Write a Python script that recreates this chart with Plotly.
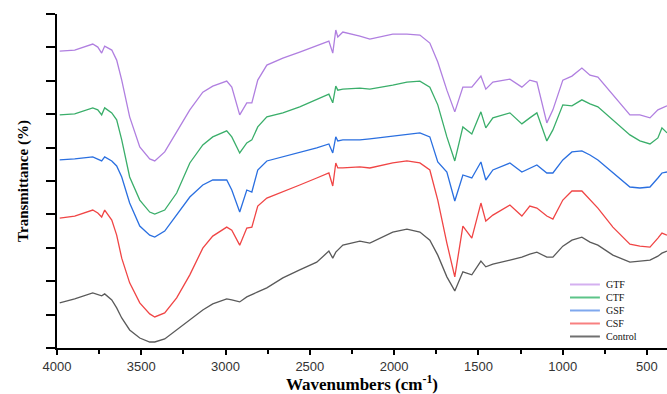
import plotly.graph_objects as go

wavenumbers = [3984, 3895, 3788, 3758, 3735, 3717, 3675, 3646, 3616, 3569, 3509, 3450, 3420, 3361, 3290,
               3212, 3135, 3076, 2993, 2963, 2916, 2874, 2844, 2809, 2755, 2660, 2560, 2459, 2387, 2364,
               2346, 2334, 2304, 2203, 2144, 2008, 1924, 1847, 1788, 1741, 1687, 1640, 1592, 1539, 1485,
               1456, 1414, 1313, 1242, 1195, 1153, 1094, 1058, 999, 945, 886, 838, 791, 702, 601,
               542, 482, 435, 411, 381]

gtf = [88.9, 89.2, 91.0, 90.1, 88.3, 90.4, 89.2, 86.2, 80.2, 69.2, 60.2, 56.6, 56.0, 58.7, 64.7,
       71.3, 76.6, 78.4, 79.9, 78.1, 69.8, 73.4, 73.4, 80.2, 84.7, 86.8, 88.6, 90.4, 91.9, 88.3,
       95.2, 93.1, 94.6, 93.4, 92.5, 94.0, 94.0, 93.7, 91.3, 85.6, 77.2, 70.7, 78.1, 78.1, 81.4,
       77.5, 79.6, 80.5, 78.1, 80.2, 79.6, 67.4, 71.3, 80.2, 81.4, 83.8, 81.7, 81.1, 75.7, 69.8,
       69.8, 68.9, 71.3, 71.9, 72.5]

ctf = [69.8, 70.1, 71.9, 71.3, 69.8, 71.9, 70.4, 68.3, 62.3, 51.2, 44.3, 40.7, 40.1, 41.3, 46.4,
       55.4, 60.8, 63.2, 65.0, 63.2, 58.4, 61.4, 62.3, 66.2, 69.2, 70.4, 72.2, 74.3, 76.0, 73.4,
       78.4, 77.2, 77.5, 77.8, 77.5, 78.7, 79.6, 79.9, 78.1, 72.8, 63.2, 56.0, 66.2, 64.1, 70.7,
       65.9, 68.9, 70.4, 67.1, 68.9, 70.4, 62.0, 65.3, 72.8, 72.5, 74.3, 73.1, 72.2, 68.3, 63.8,
       62.0, 61.1, 62.9, 65.9, 64.4]

gsf = [56.3, 56.6, 57.2, 56.6, 56.0, 57.2, 56.0, 54.5, 51.2, 43.4, 36.5, 33.8, 33.2, 35.0, 39.8,
       45.2, 48.8, 50.3, 50.3, 47.3, 40.7, 47.3, 46.7, 53.3, 56.0, 57.2, 58.4, 59.9, 61.1, 58.4,
       63.2, 62.0, 62.3, 62.3, 62.6, 63.5, 64.1, 64.4, 63.2, 55.7, 52.7, 44.0, 51.8, 50.9, 55.7,
       50.3, 53.3, 55.4, 52.7, 53.9, 54.8, 52.4, 52.4, 56.3, 58.7, 59.0, 57.8, 56.3, 52.4, 48.2,
       47.9, 48.2, 50.9, 52.4, 52.7]

csf = [38.9, 39.5, 41.3, 40.4, 39.2, 41.3, 38.3, 33.8, 26.9, 19.5, 13.5, 10.2, 9.3, 10.5, 15.0,
       21.9, 29.9, 33.5, 36.2, 35.3, 30.8, 35.9, 36.2, 42.5, 44.9, 46.7, 48.8, 50.9, 52.4, 48.5,
       55.4, 53.9, 53.9, 54.2, 53.9, 55.4, 56.0, 55.4, 53.3, 44.3, 31.4, 21.3, 36.5, 32.9, 43.4,
       38.0, 39.8, 42.8, 39.5, 42.5, 41.9, 39.5, 38.6, 44.3, 47.0, 47.0, 44.3, 41.9, 36.2, 31.1,
       30.5, 30.2, 32.9, 34.4, 33.8]

control = [13.5, 14.7, 16.5, 15.9, 15.6, 16.2, 14.4, 12.0, 9.0, 5.4, 3.0, 1.8, 1.8, 2.7, 5.4,
           8.4, 11.4, 13.2, 14.7, 14.4, 13.8, 15.3, 15.9, 16.8, 18.0, 21.0, 23.4, 25.7, 29.0, 26.9,
           28.7, 29.3, 30.8, 32.0, 31.4, 34.7, 35.6, 34.7, 32.3, 27.8, 21.3, 17.1, 22.8, 21.9, 26.0,
           24.3, 25.1, 26.3, 27.2, 28.1, 28.7, 27.2, 27.2, 30.5, 32.3, 33.2, 31.7, 30.8, 27.8, 25.7,
           26.0, 26.3, 27.5, 28.4, 29.0]

series_names = ["GTF", "CTF", "GSF", "CSF", "Control"]
series_values = [gtf, ctf, gsf, csf, control]
series_colors = ["#B07FE0", "#3AAE6A", "#2A6FE0", "#F04545", "#5A5A5A"]
legend_colors = ["#D4B0F0", "#5CC488", "#7FA8EE", "#F88080", "#707070"]

x_tick_vals = [4000, 3500, 3000, 2500, 2000, 1500, 1000, 500]
x_tick_text = ["4000", "3500", "3000", "2500", "2000", "1500", "1000", "500"]

fig = go.Figure()
for name, vals, col in zip(series_names, series_values, series_colors):
    fig.add_trace(go.Scatter(x=wavenumbers, y=vals, mode="lines", name=name,
                             line=dict(color=col, width=1.3), showlegend=False))

# compact legend: swatch lines + one multi-line text block (line spacing 1.3 * font size)
leg_font = 10
leg_center = 0.1123
leg_step = 1.3 * leg_font / 334.0
for i, col in enumerate(legend_colors):
    yy = leg_center + (2 - i) * leg_step
    fig.add_shape(type="line", xref="paper", yref="paper", x0=0.841, x1=0.890, y0=yy, y1=yy,
                  line=dict(color=col, width=2))
fig.add_annotation(xref="paper", yref="paper", x=0.896, y=leg_center, text="<br>".join(series_names),
                   showarrow=False, xanchor="left", yanchor="middle", align="left",
                   font=dict(family="Liberation Serif", size=leg_font, color="#111"))

fig.update_layout(
    width=667, height=394,
    margin=dict(l=57, r=0, t=14, b=46),
    paper_bgcolor="white", plot_bgcolor="white",
    showlegend=False,
    xaxis=dict(range=[4000, 381], tickmode="array", tickvals=x_tick_vals, ticktext=x_tick_text,
               showline=True, linecolor="black", linewidth=2, ticks="outside", ticklen=5,
               tickwidth=1.5, tickcolor="black", showgrid=False, zeroline=False,
               tickfont=dict(family="Liberation Sans", size=13, color="#333"),
               minor=dict(dtick=250, tick0=0, ticks="outside", ticklen=4, tickwidth=1.5,
                          tickcolor="black", showgrid=False),
               title=dict(text="<b>Wavenumbers (cm<sup>-1</sup>)</b>", standoff=5,
                          font=dict(family="Liberation Serif", size=17, color="black"))),
    yaxis=dict(range=[0, 100], tickmode="linear", tick0=0, dtick=10, showticklabels=False,
               showline=True, linecolor="black", linewidth=2, ticks="outside", ticklen=9,
               tickwidth=1.5, tickcolor="black", showgrid=False, zeroline=False,
               title=dict(text="<b>Transmittance (%)</b>", standoff=14,
                          font=dict(family="Liberation Serif", size=15, color="black"))),
)

fig.write_html("out.html", config={"displayModeBar": False},
               post_script="document.body.style.margin='0';document.body.style.overflow='hidden';")
